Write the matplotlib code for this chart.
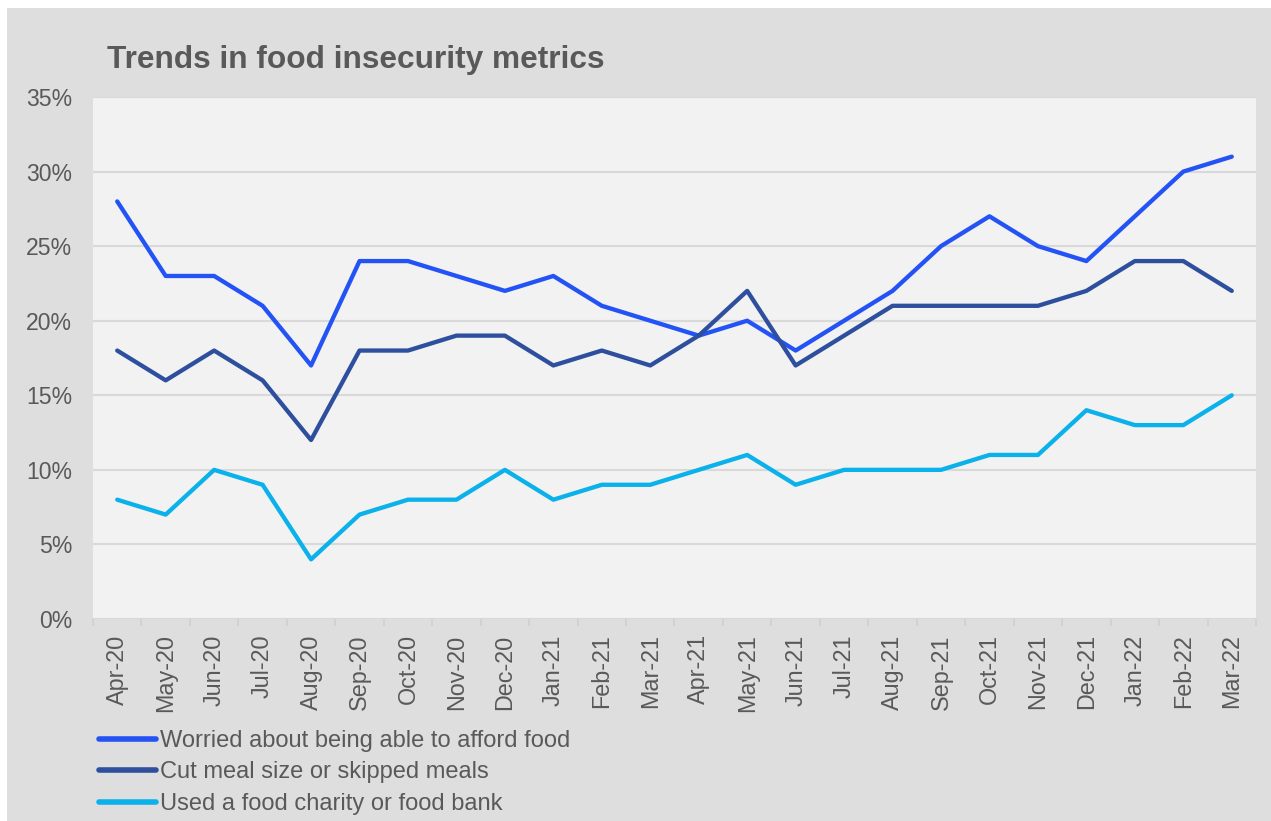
import matplotlib
matplotlib.use("Agg")
import matplotlib.pyplot as plt
from matplotlib.patches import Rectangle
from matplotlib.ticker import FixedLocator, PercentFormatter

plt.rcParams['font.family'] = ['Liberation Sans', 'DejaVu Sans']

months = ["Apr-20", "May-20", "Jun-20", "Jul-20", "Aug-20", "Sep-20", "Oct-20", "Nov-20",
          "Dec-20", "Jan-21", "Feb-21", "Mar-21", "Apr-21", "May-21", "Jun-21", "Jul-21",
          "Aug-21", "Sep-21", "Oct-21", "Nov-21", "Dec-21", "Jan-22", "Feb-22", "Mar-22"]
worried = [28, 23, 23, 21, 17, 24, 24, 23, 22, 23, 21, 20, 19, 20, 18, 20, 22, 25, 27, 25, 24, 27, 30, 31]
cut_meals = [18, 16, 18, 16, 12, 18, 18, 19, 19, 17, 18, 17, 19, 22, 17, 19, 21, 21, 21, 21, 22, 24, 24, 22]
food_bank = [8, 7, 10, 9, 4, 7, 8, 8, 10, 8, 9, 9, 10, 11, 9, 10, 10, 10, 11, 11, 14, 13, 13, 15]
labels = ["Worried about being able to afford food", "Cut meal size or skipped meals",
          "Used a food charity or food bank"]
colors = ["#2453F5", "#2D4F9E", "#0AB1EA"]

W, H = 1271, 821
fig = plt.figure(figsize=(W / 100, H / 100), dpi=100, facecolor="white")
fig.patches.append(Rectangle((7 / W, 0), 1 - 7 / W, 1 - 8 / H, transform=fig.transFigure,
                             facecolor="#DEDEDE", edgecolor="none", zorder=-10))

ax = fig.add_axes([93 / W, 1 - 619 / H, (1256 - 93) / W, (619 - 97) / H])
ax.set_facecolor("#F2F2F2")
x = list(range(len(months)))
for vals, lab, col in zip([worried, cut_meals, food_bank], labels, colors):
    ax.plot(x, vals, color=col, lw=3.1, label=lab, solid_capstyle='round', solid_joinstyle='round', zorder=3)

ax.set_xlim(-0.5, len(months) - 0.5)
ax.set_ylim(0, 35)
ax.set_yticks(range(0, 36, 5))
ax.yaxis.set_major_formatter(PercentFormatter(decimals=0))
ax.set_xticks(x)
ax.set_xticklabels(months, rotation=90)
ax.xaxis.set_minor_locator(FixedLocator([i - 0.5 for i in range(len(months) + 1)]))
ax.tick_params(axis='x', which='major', length=0, labelsize=16.8, colors="#595959", pad=11)
ax.tick_params(axis='x', which='minor', length=5, color="#D0D0D0", width=1.2)
ax.tick_params(axis='y', length=0, labelsize=16.6, colors="#595959", pad=15)
ax.grid(axis='y', color="#D9D9D9", lw=1.5, zorder=0)
for s in ax.spines.values():
    s.set_visible(False)

fig.text(107 / W, 1 - 68 / H, "Trends in food insecurity metrics", fontsize=22.8, fontweight='bold',
         color="#595959", ha='left', va='baseline')

leg = fig.legend(loc='upper left', bbox_to_anchor=(99 / W, 1 - 730 / H), frameon=False,
                 fontsize=17, handlelength=2.4, handletextpad=0.17, labelspacing=0.4,
                 borderaxespad=0, borderpad=0)
for t in leg.get_texts():
    t.set_color("#595959")
for l in leg.get_lines():
    l.set_linewidth(4)
    l.set_solid_capstyle('round')

fig.savefig("out.png", dpi=100, facecolor=fig.get_facecolor())
